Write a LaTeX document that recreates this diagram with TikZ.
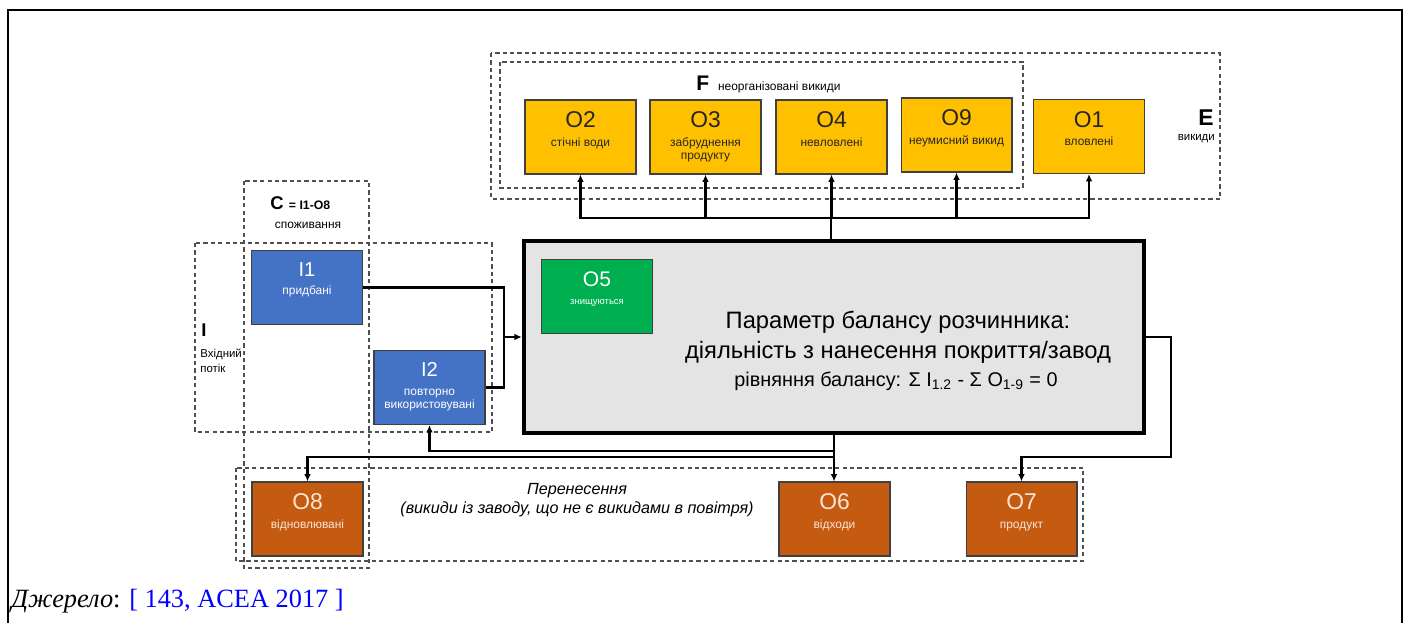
\documentclass[tikz,border=0pt]{standalone}
\usepackage{fontspec}
\setmainfont{Liberation Sans}
\newfontfamily\capfont{Liberation Serif}
\usetikzlibrary{arrows.meta}
\definecolor{ylwbox}{HTML}{FFC000}
\definecolor{blubox}{HTML}{4472C4}
\definecolor{grnbox}{HTML}{00B050}
\definecolor{orgbox}{HTML}{C55A11}
\definecolor{orgtxt}{HTML}{FBE5D6}
\definecolor{ylwtxt}{HTML}{262626}
\definecolor{mainbg}{HTML}{E4E4E4}
\definecolor{dashgray}{HTML}{505050}
\definecolor{reflink}{HTML}{0000FF}
\def\bw{2.22cm}
\def\bh{1.48cm}
\newcommand{\fs}[1]{\fontsize{#1}{#1}\selectfont}
\tikzset{
  frm/.style={draw=black!75,line width=0.6pt,minimum width=\bw,minimum height=\bh,inner sep=0pt},
  ybox/.style={frm,fill=ylwbox},
  bbox/.style={frm,fill=blubox},
  gbox/.style={frm,fill=grnbox},
  obox/.style={frm,fill=orgbox},
  btxt/.style={anchor=north,align=center,inner sep=0pt,font=\fontsize{6.8}{7.6}\selectfont},
  zone/.style={draw=dashgray,line width=0.8pt,dash pattern=on 2.4pt off 1.8pt},
  conn/.style={draw=black,line width=1.2pt},
  arr/.style={conn,-{Latex[length=4.2pt,width=3.8pt]}},
}
\newcommand{\bx}[6]{%
  \node[#3] (#1) at (#2) {};
  \node[btxt,text=#4] (#1t) at ([yshift=-6.8pt]#1.north) {{\fs{13}#5}\\[3pt]#6};
}

\begin{document}
\begin{tikzpicture}[x=0.02cm,y=-0.02cm]
\useasboundingbox (0,0) rectangle (1408,622);

% --- outer frame ----------------------------------------------------
\draw[line width=1.4pt] (8,640) -- (8,10) -- (1402,10) -- (1402,640);

% --- dashed zones ---------------------------------------------------
\draw[zone] (491,53) rectangle (1220,199);
\draw[zone] (500,62) rectangle (1023,188);
\draw[zone] (244,181) rectangle (369,568);
\draw[zone] (195,243) rectangle (492,432);
\draw[zone] (236,468) rectangle (1083,561);

% --- zone labels ----------------------------------------------------
\node[anchor=base west,inner sep=0pt] (Flab) at (696,90) {{\fs{12}\bfseries F}\hspace{5pt}{\fs{6.8}неорганізовані викиди}};
\node[anchor=base east,inner sep=0pt] (Elab) at (1214,125) {\fs{13}\bfseries E};
\node[anchor=base east,inner sep=0pt] (Etxt) at (1215,140) {\fs{6.5}викиди};
\node[anchor=base west,inner sep=0pt] (Clab) at (270,209) {{\fs{10.5}\bfseries C}\hspace{3pt}{\fs{7}\bfseries = I1-O8}};
\node[anchor=base,inner sep=0pt] (Ctxt) at (308,228) {\fs{6.8}споживання};
\node[anchor=base west,inner sep=0pt] (Ilab) at (201,336) {\fs{10.5}\bfseries I};
\node[anchor=base west,inner sep=0pt] (Itxt1) at (200,357) {\fs{6.5}Вхідний};
\node[anchor=base west,inner sep=0pt] (Itxt2) at (200,372) {\fs{6.5}потік};
\node[align=center,inner sep=0pt,font=\fontsize{9.2}{10.8}\selectfont\itshape] (Ttxt) at (577,500)
  {Перенесення\\(викиди із заводу, що не є викидами в повітря)};

% --- main process box -----------------------------------------------
\node[draw,line width=2.6pt,fill=mainbg,minimum width=12.4cm,minimum height=3.84cm] (main) at (834,337) {};
\node[anchor=base,inner sep=0pt] (mt1) at (898,328) {\fs{13.5}Параметр балансу розчинника:};
\node[anchor=base,inner sep=0pt] (mt2) at (898,358) {\fs{13.5}діяльність з нанесення покриття/завод};
\node[anchor=base,inner sep=0pt] (mt3) at (896,386) {\fs{11.3}рівняння балансу: Σ I\textsubscript{1.2} - Σ O\textsubscript{1-9} = 0};

% --- boxes ----------------------------------------------------------
\bx{O2}{580.5,137}{ybox}{ylwtxt}{O2}{стічні води}
\bx{O3}{705.5,137}{ybox}{ylwtxt}{O3}{забруднення\\продукту}
\bx{O4}{831.5,137}{ybox}{ylwtxt}{O4}{невловлені}
\bx{O9}{956.5,135}{ybox}{ylwtxt}{O9}{неумисний викид}
\bx{O1}{1089,136.5}{ybox}{ylwtxt}{O1}{вловлені}
\bx{I1}{307,287.5}{bbox}{white}{\fs{11.5}I1}{придбані}
\bx{I2}{429.5,387.5}{bbox}{white}{\fs{11.5}I2}{повторно\\використовувані}
\bx{O5}{597,296.5}{gbox}{white}{\fs{12}O5}{\fs{5.4}знищуються}
\bx{O8}{307.5,519}{obox}{orgtxt}{O8}{відновлювані}
\bx{O6}{834.5,519}{obox}{orgtxt}{O6}{відходи}
\bx{O7}{1021.5,519}{obox}{orgtxt}{O7}{продукт}

% --- connectors -----------------------------------------------------
\coordinate (topbus) at (831,218);
\draw[conn] (main.north -| topbus) -- (topbus);
\foreach \n in {O2,O3,O4,O9,O1}{
  \draw[arr] (topbus) -| (\n.south);
}
\coordinate (inlet) at (504,337);
\draw[conn] (I1.east) -| (inlet);
\draw[conn] (I2.east) -| (inlet);
\draw[arr] (inlet) -- (main.west);
\coordinate (busA) at (834,451);
\coordinate (busB) at (834,457);
\draw[arr] (main.south) -- (main.south |- O6.north);
\draw[arr] (busA) -| (I2.south);
\draw[arr] (busB) -| (O8.north);
\coordinate (rbend) at (1171,457);
\draw[arr] (main.east) -| (rbend) -| (O7.north);

% --- source line ----------------------------------------------------
\node[anchor=base west,inner sep=0pt] (src) at (11,607)
  {\capfont\fs{15}\textit{Джерело}: \textcolor{reflink}{[ 143, ACEA 2017 ]}};

\end{tikzpicture}
\end{document}
